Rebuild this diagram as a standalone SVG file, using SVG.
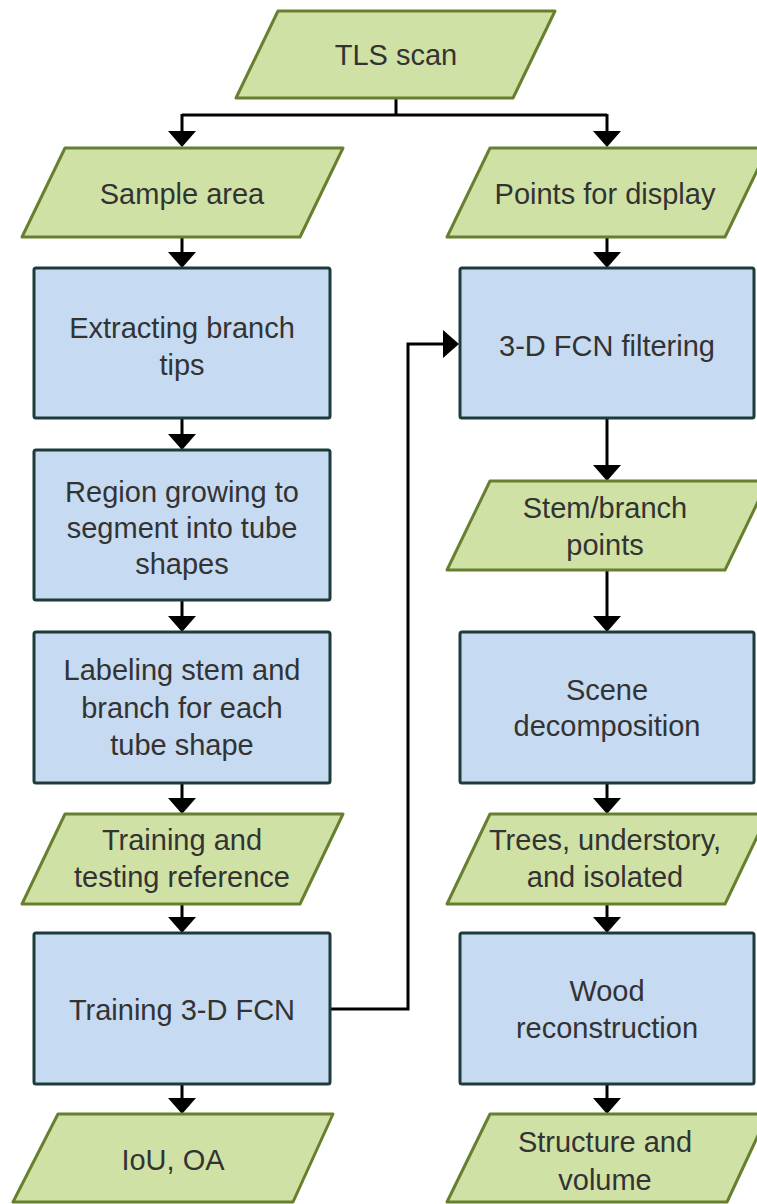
<svg xmlns="http://www.w3.org/2000/svg" width="757" height="1204" viewBox="0 0 757 1204">
<style>
.io{fill:#cfe1a5;stroke:#66802f;stroke-width:3;stroke-linejoin:round}
.pr{fill:#c6daf1;stroke:#1e3b3b;stroke-width:3}
.t{font-family:"Liberation Sans",Arial,sans-serif;font-size:29px;fill:#333;text-anchor:middle;dominant-baseline:central}
.c{fill:none;stroke:#000;stroke-width:3}
</style>
<defs>
<marker id="ah" markerUnits="userSpaceOnUse" markerWidth="16" markerHeight="28" viewBox="0 0 16 28" refX="6" refY="14" orient="auto">
<path d="M0,0 L16,14 L0,28 Z" fill="#000"/>
</marker>
</defs>
<rect width="757" height="1204" fill="#fff"/>
<g id="connectors">
<path class="c" d="M396,98 V115 M182,115 H607"/>
<path class="c" d="M182,114 V137" marker-end="url(#ah)"/>
<path class="c" d="M607,114 V137" marker-end="url(#ah)"/>
<path class="c" d="M182,237 V258" marker-end="url(#ah)"/>
<path class="c" d="M182,418 V440" marker-end="url(#ah)"/>
<path class="c" d="M182,600 V622" marker-end="url(#ah)"/>
<path class="c" d="M182,783 V804" marker-end="url(#ah)"/>
<path class="c" d="M182,904 V923" marker-end="url(#ah)"/>
<path class="c" d="M182,1084 V1104" marker-end="url(#ah)"/>
<path class="c" d="M607,237 V258" marker-end="url(#ah)"/>
<path class="c" d="M607,418 V471" marker-end="url(#ah)"/>
<path class="c" d="M607,570 V622" marker-end="url(#ah)"/>
<path class="c" d="M607,783 V804" marker-end="url(#ah)"/>
<path class="c" d="M607,904 V923" marker-end="url(#ah)"/>
<path class="c" d="M607,1084 V1104" marker-end="url(#ah)"/>
<path class="c" d="M330,1009 H408 V344 H449" marker-end="url(#ah)"/>
</g>
<g id="tls"><polygon class="io" points="278,11 555,11 513,98 236,98"/><text class="t" x="396" y="55">TLS scan</text></g>
<g id="sample"><polygon class="io" points="65,148 343,148 300,237 22,237"/><text class="t" x="182" y="194">Sample area</text></g>
<g id="points"><polygon class="io" points="490,148 768,148 725,237 447,237"/><text class="t" x="605" y="194">Points for display</text></g>
<g id="extract"><rect class="pr" x="34" y="268" width="296" height="150" rx="2"/><text class="t" x="182" y="328">Extracting branch</text><text class="t" x="182" y="365">tips</text></g>
<g id="filter"><rect class="pr" x="460" y="268" width="294" height="150" rx="2"/><text class="t" x="607" y="346">3-D FCN filtering</text></g>
<g id="region"><rect class="pr" x="34" y="450" width="296" height="150" rx="2"/><text class="t" x="182" y="492">Region growing to</text><text class="t" x="182" y="528">segment into tube</text><text class="t" x="182" y="564">shapes</text></g>
<g id="stem"><polygon class="io" points="490,481 768,481 725,570 447,570"/><text class="t" x="605" y="508">Stem/branch</text><text class="t" x="605" y="545">points</text></g>
<g id="labeling"><rect class="pr" x="34" y="632" width="296" height="151" rx="2"/><text class="t" x="182" y="670">Labeling stem and</text><text class="t" x="182" y="708">branch for each</text><text class="t" x="182" y="745">tube shape</text></g>
<g id="scene"><rect class="pr" x="460" y="632" width="294" height="151" rx="2"/><text class="t" x="607" y="690">Scene</text><text class="t" x="607" y="726">decomposition</text></g>
<g id="trainref"><polygon class="io" points="65,814 343,814 300,904 22,904"/><text class="t" x="182" y="840">Training and</text><text class="t" x="182" y="877">testing reference</text></g>
<g id="trees"><polygon class="io" points="490,814 768,814 725,904 447,904"/><text class="t" x="605" y="840">Trees, understory,</text><text class="t" x="605" y="877">and isolated</text></g>
<g id="trainfcn"><rect class="pr" x="34" y="933" width="296" height="151" rx="2"/><text class="t" x="182" y="1010">Training 3-D FCN</text></g>
<g id="wood"><rect class="pr" x="460" y="933" width="294" height="151" rx="2"/><text class="t" x="607" y="991">Wood</text><text class="t" x="607" y="1028">reconstruction</text></g>
<g id="iou"><polygon class="io" points="58,1114 333,1114 293,1202 13,1202"/><text class="t" x="173" y="1160">IoU, OA</text></g>
<g id="structure"><polygon class="io" points="490,1114 768,1114 727,1202 447,1202"/><text class="t" x="605" y="1142">Structure and</text><text class="t" x="605" y="1180">volume</text></g>
</svg>
